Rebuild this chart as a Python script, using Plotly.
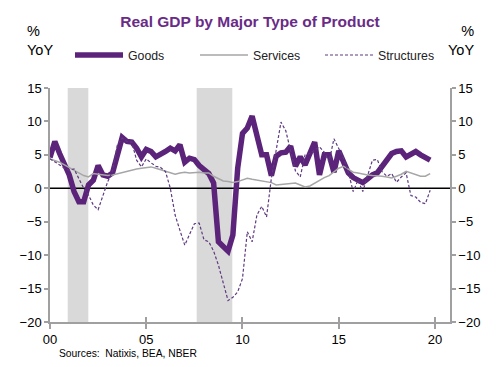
import plotly.graph_objects as go

years = [2000 + q * 0.25 for q in range(80)]

goods = [4.6, 7.0, 5.2, 3.5,
         2.0, -0.5, -2.0, -2.0,
         0.5, 1.2, 3.4, 2.0,
         1.8, 2.3, 5.0, 7.6,
         7.0, 6.9, 6.0, 4.7,
         5.8, 5.5, 4.7, 5.0,
         5.5, 6.0, 5.6, 6.5,
         3.9, 4.5, 4.3, 3.4,
         2.7, 2.2, 0.8, -8.0,
         -8.7, -9.4, -7.0, 3.0,
         8.2, 9.0, 10.8, 7.8,
         5.0, 5.0, 1.9, 4.8,
         5.3, 5.4, 6.3, 3.3,
         4.7, 3.5, 5.3, 6.9,
         2.0, 5.0, 5.0, 2.4,
         5.6, 3.8, 2.3, 1.6,
         1.2, 0.85, 1.4, 2.0,
         2.3, 3.2, 4.4, 5.2,
         5.5, 5.6, 4.7, 5.0,
         5.5, 5.0, 4.7, 4.2]

services = [4.4, 4.2, 3.9, 3.5,
            3.1, 2.7, 2.3, 1.9,
            1.7, 2.2, 2.1, 2.0,
            1.9, 2.0, 2.2, 2.4,
            2.6, 2.8, 2.9, 3.0,
            3.1, 3.2, 3.0, 2.8,
            2.6, 2.4, 2.1, 2.3,
            2.4, 2.3, 2.4, 2.4,
            2.3, 2.3, 1.8, 1.4,
            1.1, 1.0, 0.85, 1.0,
            1.2, 1.5, 1.35, 1.2,
            1.05, 1.0, 0.85, 0.5,
            0.6, 0.7, 0.8, 0.8,
            0.5, 0.2, 0.35, 0.8,
            1.2, 1.6, 1.9, 2.5,
            3.0, 3.3, 2.8, 2.4,
            2.3, 2.1, 2.0, 1.9,
            1.9, 1.8, 1.7, 1.55,
            1.8, 2.1, 2.55, 2.3,
            2.0, 1.8, 1.8, 2.2]

structures = [4.4, 4.0, 3.5, 3.0,
              2.7, 2.9, 1.5, 0.0,
              -1.0, -2.5, -3.2, -1.2,
              1.0, 2.6, 6.5, 7.5,
              7.0, 6.9, 4.2, 3.2,
              4.4, 3.8, 3.3, 3.1,
              2.5, 0.0, -4.0, -6.3,
              -8.5, -6.9, -5.3, -5.2,
              -7.7, -8.0, -9.4, -11.5,
              -14.0, -16.8, -16.3, -15.5,
              -13.5, -6.5, -8.0, -4.0,
              -2.7, -4.3, 1.5, 6.0,
              9.9, 8.6, 5.8, 2.6,
              1.7, 5.0, 5.2, 5.7,
              6.2, 5.4, 4.0, 7.4,
              6.0, 4.5, 2.4, -0.5,
              1.2, -0.5, 1.9, 4.2,
              4.3, 2.5, 1.8, 2.2,
              0.9, 1.7, 2.3, -1.1,
              -1.3, -2.1, -2.3, -0.3]

rec_start = [2000.92, 2007.62]
rec_end = [2001.99, 2009.47]

xtick_vals = [2000, 2005, 2010, 2015, 2020]
xtick_text = ["00", "05", "10", "15", "20"]
ytick_vals = [-20, -15, -10, -5, 0, 5, 10, 15]

PURPLE = "#5b2379"
FONT = "Liberation Sans, Arial, sans-serif"

# page offset (body margin of 8px) compensation
OFF = 8
W, H = 500 - OFF, 367 - OFF
L, T, R, B = 50 - OFF, 88 - OFF, 50, 45
PW, PH = W - L - R, H - T - B


def px(X):
    return (X - 50) / PW


def py(Y):
    return (322 - Y) / PH


fig = go.Figure()
fig.add_trace(go.Scatter(x=years, y=goods, name="Goods", mode="lines",
                         line=dict(color=PURPLE, width=5.5)))
fig.add_trace(go.Scatter(x=years, y=services, name="Services", mode="lines",
                         line=dict(color="#a6a6a6", width=1.5)))
fig.add_trace(go.Scatter(x=years, y=structures, name="Structures", mode="lines",
                         line=dict(color="#5e3a80", width=1.2, dash="3px,2px")))
fig.add_trace(go.Scatter(x=[years[0]], y=[0], yaxis="y2", showlegend=False,
                         mode="lines", line=dict(width=0), hoverinfo="skip"))
fig.add_trace(go.Scatter(x=[years[0]], y=[0], xaxis="x2", showlegend=False,
                         mode="lines", line=dict(width=0), hoverinfo="skip"))

for s, e in zip(rec_start, rec_end):
    fig.add_vrect(x0=s, x1=e, fillcolor="#d9d9d9", line_width=0, layer="below", opacity=1)

fig.add_hline(y=0, line=dict(color="black", width=1.5), layer="below")

axis_gray = "#a0a0a0"
fig.update_layout(
    width=W, height=H,
    margin=dict(l=L, r=R, t=T, b=B, autoexpand=False),
    plot_bgcolor="white", paper_bgcolor="white",
    font=dict(family=FONT, size=12, color="black"),
    title=dict(text="<b>Real GDP by Major Type of Product</b>", x=px(250), xref="paper",
               xanchor="center", y=1 - (22 - OFF) / H, yanchor="middle",
               font=dict(size=15.5, color="#6a2b87", family=FONT)),
    showlegend=True,
    legend=dict(orientation="h", x=px(70), xanchor="left", y=py(55), yanchor="middle",
                font=dict(size=12.3, color="#222"), entrywidth=62, entrywidthmode="pixels",
                bgcolor="rgba(0,0,0,0)", traceorder="normal", itemwidth=48),
    xaxis=dict(range=[2000, 2020.78], tickvals=xtick_vals, ticktext=xtick_text,
               showgrid=False, zeroline=False, showline=True, linecolor=axis_gray, linewidth=1.5,
               ticks="outside", ticklen=5, tickcolor=axis_gray, tickwidth=1.5,
               tickfont=dict(size=13)),
    xaxis2=dict(range=[2000, 2020.78], tickvals=xtick_vals, overlaying="x", side="bottom",
                showticklabels=False, showgrid=False, zeroline=False, showline=False,
                ticks="inside", ticklen=5, tickcolor=axis_gray, tickwidth=1.5, anchor="y"),
    yaxis=dict(range=[-20, 15], tickvals=ytick_vals, showgrid=False, zeroline=False,
               showline=True, linecolor=axis_gray, linewidth=1.5,
               ticks="outside", ticklen=4, tickcolor=axis_gray, tickwidth=1.5,
               tickfont=dict(size=13)),
    yaxis2=dict(range=[-20, 15], tickvals=ytick_vals, overlaying="y", side="right",
                showgrid=False, zeroline=False, showline=True, linecolor=axis_gray, linewidth=1.5,
                ticks="outside", ticklen=4, tickcolor=axis_gray, tickwidth=1.5,
                tickfont=dict(size=13)),
)

fig.add_annotation(text="%<br>YoY", x=px(25), y=py(21), xref="paper", yref="paper",
                   showarrow=False, align="left", xanchor="left", yanchor="top",
                   font=dict(size=14.5))
fig.add_annotation(text="%<br>YoY", x=px(476), y=py(21), xref="paper", yref="paper",
                   showarrow=False, align="right", xanchor="right", yanchor="top",
                   font=dict(size=14.5))
fig.add_annotation(text="Sources:  Natixis, BEA, NBER", x=px(57), y=py(353), xref="paper",
                   yref="paper", showarrow=False, xanchor="left", yanchor="middle",
                   font=dict(size=10.3))

fig.write_html("out.html")
